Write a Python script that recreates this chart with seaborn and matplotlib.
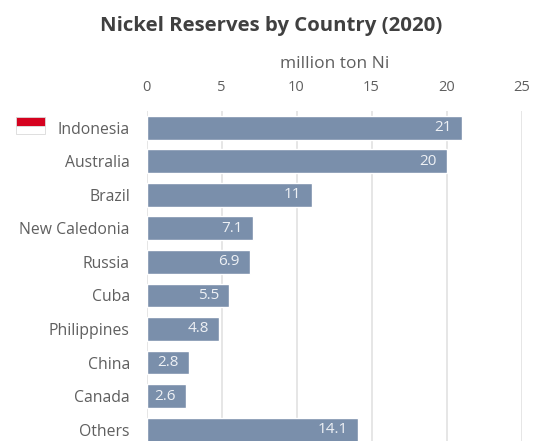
import matplotlib
matplotlib.use("Agg")
import matplotlib.pyplot as plt
from matplotlib.patches import Rectangle
from matplotlib.transforms import IdentityTransform
import pandas as pd
import seaborn as sns

countries = ["Indonesia", "Australia", "Brazil", "New Caledonia", "Russia",
             "Cuba", "Philippines", "China", "Canada", "Others"]
reserves = [21, 20, 11, 7.1, 6.9, 5.5, 4.8, 2.8, 2.6, 14.1]
value_labels = ["21", "20", "11", "7.1", "6.9", "5.5", "4.8", "2.8", "2.6", "14.1"]
x_ticks = [0, 5, 10, 15, 20, 25]

W, H = 539, 441
BAR_COLOR = "#7a8fab"
TEXT_COLOR = "#5f5f5f"

sns.set_theme(style="white")
plt.rcParams["font.family"] = ["Open Sans", "DejaVu Sans"]

fig = plt.figure(figsize=(W / 100, H / 100), dpi=100, facecolor="white")
# The plot runs off the lower edge, so the last bar is cut by the figure.
ax = fig.add_axes([146.5 / W, 0, (521.5 - 146.5) / W, (H - 111) / H])

df = pd.DataFrame({"country": countries, "reserves": reserves})
sns.barplot(data=df, x="reserves", y="country", color=BAR_COLOR, saturation=1,
            width=0.71, ax=ax, zorder=3)

ax.set_xlim(0, 25)
ax.set_ylim(9.34, -0.5)
ax.set_xlabel("")
ax.set_ylabel("")
ax.set_xticks(x_ticks)
ax.xaxis.tick_top()
ax.tick_params(axis="x", length=0, pad=11.3, labelsize=10.5, labelcolor=TEXT_COLOR)
ax.tick_params(axis="y", length=0, pad=12, labelsize=11.3, labelcolor=TEXT_COLOR)
ax.grid(axis="x", color="#e2e2e2", linewidth=1.2, zorder=0)
ax.grid(axis="y", visible=False)
ax.set_axisbelow(True)
sns.despine(ax=ax, left=True, bottom=True, top=True, right=True)

for container in ax.containers:
    texts = ax.bar_label(container, labels=value_labels, label_type="edge",
                         padding=-7.2, color="#eef1f5", fontsize=11)
    for text in texts:
        text.set_ha("right")

fig.text(271 / W, 1 - 25.5 / H, "Nickel Reserves by Country (2020)", ha="center",
         va="center", fontsize=14.7, fontweight="bold", color="#404040")
fig.text(334.5 / W, 1 - 63.5 / H, "million ton Ni", ha="center", va="center",
         fontsize=12.5, color=TEXT_COLOR)

# Indonesian flag beside the first row
pixels = IdentityTransform()
for top, bottom, face in [(117, 126, "#d5021f"), (126, 134, "#ffffff")]:
    fig.add_artist(Rectangle((16, H - bottom), 29, bottom - top, transform=pixels,
                             facecolor=face, edgecolor="#d9d9d9", linewidth=0.6))

fig.savefig("out.png", dpi=100, facecolor="white")
